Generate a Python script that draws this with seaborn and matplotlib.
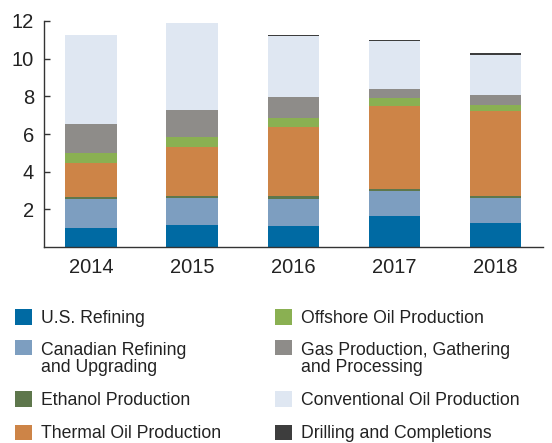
import numpy as np
import pandas as pd
import seaborn as sns
import matplotlib.pyplot as plt

years = ['2014', '2015', '2016', '2017', '2018']

us_refining = [1.04, 1.15, 1.10, 1.63, 1.26]
canadian_refining = [1.49, 1.44, 1.43, 1.33, 1.33]
ethanol = [0.11, 0.15, 0.16, 0.12, 0.10]
thermal_oil = [1.81, 2.56, 3.67, 4.42, 4.52]
offshore_oil = [0.53, 0.53, 0.50, 0.42, 0.32]
gas_production = [1.54, 1.45, 1.10, 0.46, 0.53]
conventional_oil = [4.75, 4.61, 3.26, 2.56, 2.13]
drilling = [0.0, 0.0, 0.05, 0.05, 0.12]

labels = ['U.S. Refining', 'Canadian Refining\nand Upgrading', 'Ethanol Production',
          'Thermal Oil Production', 'Offshore Oil Production',
          'Gas Production, Gathering\nand Processing', 'Conventional Oil Production',
          'Drilling and Completions']
colors = ['#006aa3', '#7d9ec0', '#5e774c', '#cd8447', '#8ab052',
          '#8e8c89', '#dfe7f2', '#3d3d3d']

series = [us_refining, canadian_refining, ethanol, thermal_oil, offshore_oil,
          gas_production, conventional_oil, drilling]

sns.set_style('white')
plt.rcParams['font.family'] = ['Liberation Sans', 'DejaVu Sans']
plt.rcParams['text.color'] = '#222222'

fig = plt.figure(figsize=(5.52, 4.43), dpi=100)
ax = fig.add_axes([0.079, 0.442, 0.905, 0.511])

bottom = np.zeros(len(years))
for vals, lab, col in zip(series, labels, colors):
    df = pd.DataFrame({'year': years, 'value': vals})
    sns.barplot(data=df, x='year', y='value', color=col, saturation=1,
                width=0.51, bottom=bottom, linewidth=0, label=lab, ax=ax)
    bottom = bottom + np.array(vals)

ax.set_ylim(0, 12)
ax.set_xlim(-0.47, 4.47)
ax.set_yticks([2, 4, 6, 8, 10, 12])
ax.set_xlabel('')
ax.set_ylabel('')
for s in ['top', 'right']:
    ax.spines[s].set_visible(False)
for s in ['left', 'bottom']:
    ax.spines[s].set_color('#333333')
    ax.spines[s].set_linewidth(1.0)
ax.tick_params(axis='y', direction='in', length=4, width=1, color='#333333',
               labelsize=14.5, labelcolor='#222222', pad=7, left=True)
ax.tick_params(axis='x', length=0, labelsize=14.5, labelcolor='#222222', pad=8)

handles, labs = ax.get_legend_handles_labels()
if ax.get_legend() is not None:
    ax.get_legend().remove()
leg = fig.legend(handles, labs, ncol=2, loc='upper left',
                 bbox_to_anchor=(0.027, 0.302), frameon=False,
                 fontsize=12.7, handlelength=0.96, handleheight=0.96,
                 handletextpad=0.5, columnspacing=3.1, labelspacing=0.88,
                 borderpad=0, borderaxespad=0)
for t in leg.get_texts():
    t.set_linespacing(0.95)
    t.set_color('#222222')
# two-line entries: put the square next to the first line
for h, lab in zip(leg.legend_handles, labs):
    if '\n' in lab:
        h.set_y(h.get_y() + 8.5)

fig.savefig('out.png', dpi=100)
